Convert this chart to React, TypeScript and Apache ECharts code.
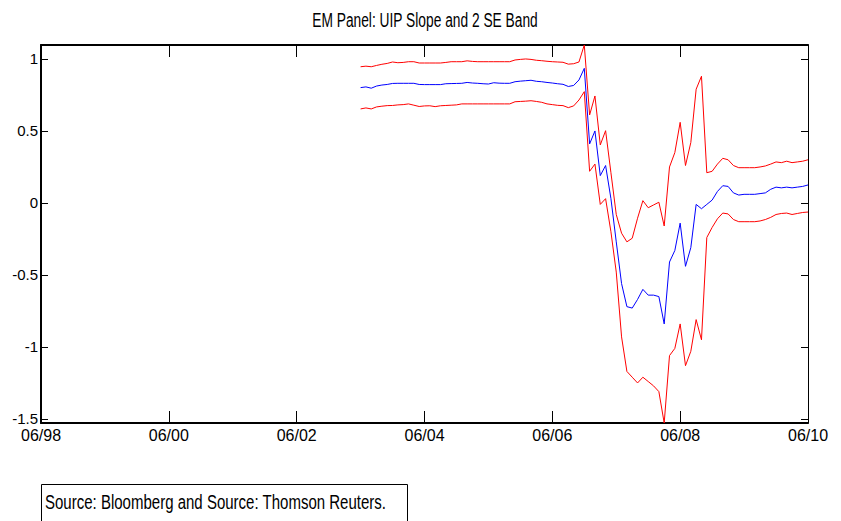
import React, { useEffect, useRef } from "react";
import * as echarts from "echarts";

// Months counted from 06/98 (0) to 06/10 (144); the series start at 06/03.
const startMonth = 60;
const xTickLabels = ["06/98", "06/00", "06/02", "06/04", "06/06", "06/08", "06/10"];
const yTickValues = [-1.5, -1, -0.5, 0, 0.5, 1];
const titleText = "EM Panel: UIP Slope and 2 SE Band";
const sourceText = "Source: Bloomberg and Source: Thomson Reuters.";

const upperBand = [
  0.946, 0.95, 0.946, 0.955, 0.963, 0.969, 0.979, 0.974, 0.976, 0.981,
  0.981, 0.972, 0.972, 0.972, 0.972, 0.972, 0.976, 0.981, 0.981, 0.981,
  0.987, 0.983, 0.981, 0.981, 0.981, 0.981, 0.981, 0.981, 0.981, 0.993,
  0.997, 1.0, 0.997, 0.991, 0.988, 0.984, 0.981, 0.979, 0.977, 0.964,
  0.967, 0.979, 1.097, 0.611, 0.743, 0.403, 0.502, 0.21, -0.08, -0.21,
  -0.27, -0.245, -0.106, 0.016, -0.033, -0.014, 0.005, -0.16, 0.25, 0.35,
  0.56, 0.26, 0.42, 0.79, 0.88, 0.21, 0.22, 0.27, 0.31, 0.3,
  0.26, 0.245, 0.245, 0.245, 0.245, 0.25, 0.257, 0.27, 0.285, 0.28,
  0.29, 0.28, 0.285, 0.29, 0.3,
];

const slope = [
  0.801, 0.806, 0.797, 0.812, 0.819, 0.823, 0.83, 0.831, 0.831, 0.831,
  0.831, 0.823, 0.822, 0.822, 0.822, 0.822, 0.828, 0.829, 0.83, 0.831,
  0.837, 0.833, 0.831, 0.828, 0.826, 0.835, 0.832, 0.831, 0.831, 0.842,
  0.846, 0.849, 0.852, 0.845, 0.842, 0.837, 0.833, 0.828, 0.824, 0.809,
  0.816, 0.854, 0.935, 0.41, 0.5, 0.19, 0.26, 0.03, -0.27, -0.56,
  -0.72, -0.73, -0.67, -0.6, -0.64, -0.64, -0.65, -0.84, -0.41, -0.33,
  -0.14, -0.44, -0.31, -0.01, -0.04, -0.01, 0.02, 0.08, 0.12, 0.115,
  0.07, 0.055, 0.06, 0.06, 0.06, 0.065, 0.07, 0.095, 0.11, 0.105,
  0.11, 0.105, 0.11, 0.115, 0.125,
];

const lowerBand = [
  0.653, 0.66, 0.653, 0.667, 0.672, 0.676, 0.677, 0.681, 0.683, 0.688,
  0.679, 0.67, 0.674, 0.675, 0.669, 0.675, 0.677, 0.679, 0.681, 0.688,
  0.688, 0.688, 0.688, 0.688, 0.688, 0.688, 0.688, 0.688, 0.688, 0.703,
  0.705, 0.707, 0.71, 0.705, 0.699, 0.688, 0.683, 0.678, 0.676, 0.662,
  0.674, 0.715, 0.773, 0.22, 0.27, -0.01, 0.03, -0.2, -0.48, -0.93,
  -1.17, -1.21, -1.25, -1.21, -1.24, -1.27, -1.31, -1.528, -1.06, -1.01,
  -0.84, -1.13, -1.03, -0.81, -0.95, -0.24, -0.17, -0.11, -0.07, -0.076,
  -0.115, -0.13, -0.13, -0.13, -0.13, -0.125, -0.115, -0.1, -0.08, -0.073,
  -0.07, -0.08, -0.073, -0.066, -0.063,
];

const FONT = "'Liberation Sans', Arial, sans-serif";

const toPairs = (arr: number[]) => arr.map((v, i) => [startMonth + i, v]);

export default function App() {
  const ref = useRef<HTMLDivElement>(null);
  useEffect(() => {
    if (!ref.current) return;
    const chart = echarts.init(ref.current, null, { renderer: "svg" });
    const yMin = Math.min(...lowerBand);
    const yMax = Math.max(...upperBand);
    const xFormatter = (v: number) => xTickLabels[Math.round(v / 24)] ?? "";
    const common = {
      min: 0,
      max: 144,
      interval: 24,
      splitLine: { show: false },
    };
    chart.setOption({
      animation: false,
      backgroundColor: "#ffffff",
      grid: { left: 41, right: 33, top: 45, bottom: 98, containLabel: false },
      xAxis: [
        {
          type: "value",
          position: "bottom",
          ...common,
          axisLine: { show: true, onZero: false, lineStyle: { color: "#000", width: 2 } },
          axisTick: { show: true, inside: true, length: 12, lineStyle: { color: "#000", width: 1 } },
          axisLabel: {
            show: true,
            formatter: xFormatter,
            color: "#000",
            fontFamily: FONT,
            fontSize: 16,
            margin: 4,
          },
        },
        {
          type: "value",
          position: "top",
          ...common,
          axisLine: { show: true, onZero: false, lineStyle: { color: "#000", width: 2 } },
          axisTick: { show: true, inside: true, length: 12, lineStyle: { color: "#000", width: 1 } },
          axisLabel: { show: false },
        },
      ],
      yAxis: [
        {
          type: "value",
          position: "left",
          min: yMin,
          max: yMax,
          splitLine: { show: false },
          axisLine: { show: true, onZero: false, lineStyle: { color: "#000", width: 2 } },
          axisTick: {
            show: true,
            inside: true,
            length: 7,
            customValues: yTickValues,
            lineStyle: { color: "#000", width: 1 },
          },
          axisLabel: {
            show: true,
            customValues: yTickValues,
            formatter: (v: number) => String(v),
            color: "#000",
            fontFamily: FONT,
            fontSize: 15,
            margin: 3,
          },
        },
        {
          type: "value",
          position: "right",
          min: yMin,
          max: yMax,
          splitLine: { show: false },
          axisLine: { show: true, onZero: false, lineStyle: { color: "#000", width: 1 } },
          axisTick: {
            show: true,
            inside: true,
            length: 7,
            customValues: yTickValues,
            lineStyle: { color: "#000", width: 1 },
          },
          axisLabel: { show: false },
        },
      ],
      series: [
        {
          name: "Upper band",
          type: "line",
          data: toPairs(upperBand),
          showSymbol: false,
          symbol: "none",
          lineStyle: { color: "#ff0000", width: 1 },
          z: 2,
        },
        {
          name: "UIP slope",
          type: "line",
          data: toPairs(slope),
          showSymbol: false,
          symbol: "none",
          lineStyle: { color: "#0000ff", width: 1 },
          z: 3,
        },
        {
          name: "Lower band",
          type: "line",
          data: toPairs(lowerBand),
          showSymbol: false,
          symbol: "none",
          lineStyle: { color: "#ff0000", width: 1 },
          z: 2,
        },
      ],
      graphic: [
        {
          type: "text",
          x: 425,
          y: 20,
          scaleX: 0.656,
          style: {
            text: titleText,
            fontFamily: FONT,
            fontSize: 21,
            fill: "#000",
            align: "center",
            verticalAlign: "middle",
          },
          silent: true,
        },
        {
          type: "rect",
          shape: { x: 41.5, y: 484.5, width: 366, height: 50 },
          style: { fill: "none", stroke: "#000", lineWidth: 1 },
          silent: true,
        },
        {
          type: "text",
          x: 45,
          y: 502,
          scaleX: 0.715,
          style: {
            text: sourceText,
            fontFamily: FONT,
            fontSize: 21,
            fill: "#000",
            verticalAlign: "middle",
            align: "left",
          },
          silent: true,
        },
      ],
    });
    return () => chart.dispose();
  }, []);
  return <div ref={ref} style={{ width: 841, height: 521, position: "absolute", left: 0, top: 0 }} />;
}
